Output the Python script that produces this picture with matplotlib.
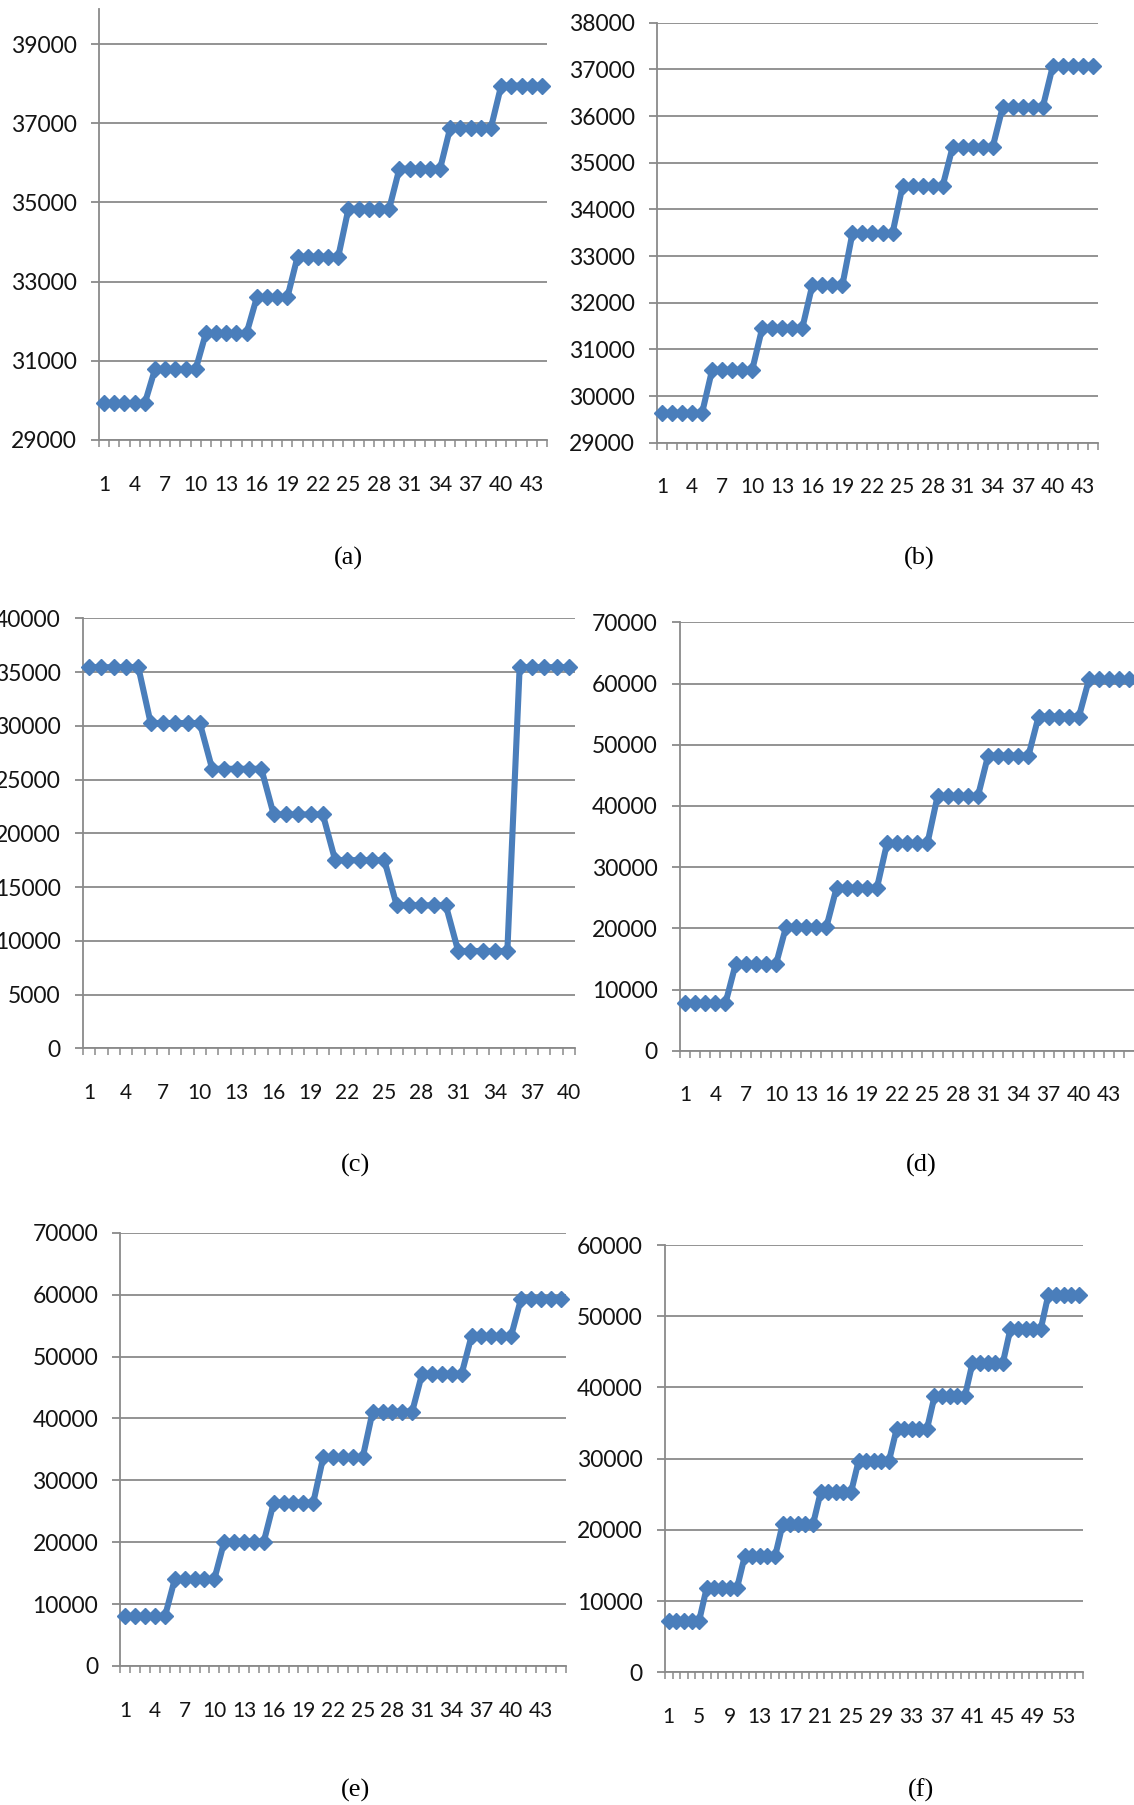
import matplotlib
matplotlib.use("Agg")
import matplotlib.pyplot as plt
from matplotlib.ticker import FixedLocator, NullFormatter

# ---- series values (one value per category, categories numbered from 1) ----
values_a = [29930, 29930, 29930, 29930, 29930,
            30790, 30790, 30790, 30790, 30790,
            31700, 31700, 31700, 31700, 31700,
            32600, 32600, 32600, 32600,
            33630, 33630, 33630, 33630, 33630,
            34840, 34840, 34840, 34840, 34840,
            35850, 35850, 35850, 35850, 35850,
            36890, 36890, 36890, 36890, 36890,
            37950, 37950, 37950, 37950, 37950]

values_b = [29640, 29640, 29640, 29640, 29640,
            30560, 30560, 30560, 30560, 30560,
            31460, 31460, 31460, 31460, 31460,
            32380, 32380, 32380, 32380,
            33490, 33490, 33490, 33490, 33490,
            34500, 34500, 34500, 34500, 34500,
            35340, 35340, 35340, 35340, 35340,
            36200, 36200, 36200, 36200, 36200,
            37080, 37080, 37080, 37080, 37080]

values_c = [35450, 35450, 35450, 35450, 35450,
            30250, 30250, 30250, 30250, 30250,
            26000, 26000, 26000, 26000, 26000,
            21750, 21750, 21750, 21750, 21750,
            17500, 17500, 17500, 17500, 17500,
            13300, 13300, 13300, 13300, 13300,
            9050, 9050, 9050, 9050, 9050,
            35450, 35450, 35450, 35450, 35450]

values_d = [7750, 7750, 7750, 7750, 7750,
            14100, 14100, 14100, 14100, 14100,
            20250, 20250, 20250, 20250, 20250,
            26600, 26600, 26600, 26600, 26600,
            33900, 33900, 33900, 33900, 33900,
            41600, 41600, 41600, 41600, 41600,
            48200, 48200, 48200, 48200, 48200,
            54600, 54600, 54600, 54600, 54600,
            60700, 60700, 60700, 60700, 60700]

values_e = [8000, 8000, 8000, 8000, 8000,
            14050, 14050, 14050, 14050, 14050,
            20100, 20100, 20100, 20100, 20100,
            26400, 26400, 26400, 26400, 26400,
            33700, 33700, 33700, 33700, 33700,
            41100, 41100, 41100, 41100, 41100,
            47200, 47200, 47200, 47200, 47200,
            53300, 53300, 53300, 53300, 53300,
            59300, 59300, 59300, 59300, 59300]

values_f = [7250, 7250, 7250, 7250, 7250,
            11900, 11900, 11900, 11900, 11900,
            16300, 16300, 16300, 16300, 16300,
            20800, 20800, 20800, 20800, 20800,
            25250, 25250, 25250, 25250, 25250,
            29650, 29650, 29650, 29650, 29650,
            34100, 34100, 34100, 34100, 34100,
            38750, 38750, 38750, 38750, 38750,
            43400, 43400, 43400, 43400, 43400,
            48200, 48200, 48200, 48200, 48200,
            53000, 53000, 53000, 53000, 53000]

# ---- y-axis tick values ----
yticks_a = [29000, 31000, 33000, 35000, 37000, 39000]
yticks_b = [29000, 30000, 31000, 32000, 33000, 34000, 35000, 36000, 37000, 38000]
yticks_c = [0, 5000, 10000, 15000, 20000, 25000, 30000, 35000, 40000]
yticks_de = [0, 10000, 20000, 30000, 40000, 50000, 60000, 70000]
yticks_f = [0, 10000, 20000, 30000, 40000, 50000, 60000]

# ---- x tick label step and panel captions ----
label_step_a = 3
label_step_f = 4
captions = ["(a)", "(b)", "(c)", "(d)", "(e)", "(f)"]

W, H = 1134, 1805
fig = plt.figure(figsize=(W / 100, H / 100), dpi=100)
fig.patch.set_facecolor("white")

LINE_BLUE = "#4a7ebb"
GRID_GREY = "#8a8a8a"
TEXT_COL = "#141414"
TICK_FONT = "Lato"


def panel(box, values, ylim, yticks, step):
    """box = (left px, right px, y px of ylim[0], y px of ylim[1]) measured from the top."""
    left, right, ybot, ytop = box
    ax = fig.add_axes([left / W, 1 - ybot / H, (right - left) / W, (ybot - ytop) / H])
    n = len(values)
    x = list(range(1, n + 1))
    ax.plot(x, values, color=LINE_BLUE, lw=4.4, marker="D", ms=8.4,
            mfc=LINE_BLUE, mec=LINE_BLUE, mew=1.0, clip_on=False, zorder=3,
            solid_joinstyle="miter")
    ax.set_xlim(0.5, n + 0.5)
    ax.set_ylim(*ylim)

    for side in ("top", "right"):
        ax.spines[side].set_visible(False)
    for side in ("left", "bottom"):
        ax.spines[side].set_color(GRID_GREY)
        ax.spines[side].set_linewidth(1.3)

    ax.set_yticks(yticks)
    ax.set_yticklabels([str(v) for v in yticks], fontsize=16.5,
                       fontfamily=TICK_FONT, color=TEXT_COL)
    ax.yaxis.grid(True, color=GRID_GREY, lw=1.3, zorder=0)
    ax.set_axisbelow(True)
    ax.tick_params(axis="y", which="major", direction="out", length=6,
                   width=1.3, color=GRID_GREY, pad=10)

    labelled = list(range(1, n + 1, step))
    ax.xaxis.set_major_locator(FixedLocator(labelled))
    ax.set_xticklabels([str(v) for v in labelled], fontsize=15,
                       fontfamily=TICK_FONT, color=TEXT_COL)
    ax.xaxis.set_minor_locator(FixedLocator([k + 0.5 for k in range(0, n + 1)]))
    ax.xaxis.set_minor_formatter(NullFormatter())
    ax.tick_params(axis="x", which="major", length=0, pad=25)
    ax.tick_params(axis="x", which="minor", direction="out", length=5,
                   width=1.1, color=GRID_GREY)
    return ax


panel((99, 547, 440, 9), values_a, (29000, 39884), yticks_a, label_step_a)
panel((657, 1098, 442.7, 22.7), values_b, (29000, 38000), yticks_b, label_step_a)
panel((83, 575, 1048.3, 618.3), values_c, (0, 40000), yticks_c, label_step_a)
panel((680, 1134.5, 1050.7, 622.3), values_d, (0, 70000), yticks_de, label_step_a)
panel((120.4, 565.5, 1666, 1232.7), values_e, (0, 70000), yticks_de, label_step_a)
panel((665, 1082.5, 1672.3, 1245), values_f, (0, 60000), yticks_f, label_step_f)

caption_xy = [(348, 558), (919, 558), (355, 1165), (921, 1165), (355, 1790), (921, 1790)]
for text, (cx, cy) in zip(captions, caption_xy):
    fig.text(cx / W, 1 - cy / H, text, ha="center", va="center",
             fontsize=19, fontfamily="Liberation Serif", color="#000000")

fig.savefig("out.png", dpi=100, facecolor="white")
